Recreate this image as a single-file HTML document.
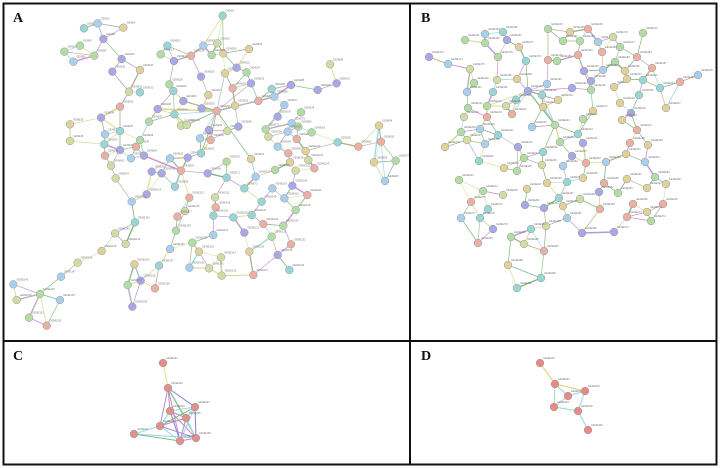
<!DOCTYPE html>
<html><head><meta charset="utf-8">
<style>
html,body{margin:0;padding:0;background:#fff;}
svg{display:block;}
</style></head>
<body>
<svg id="s" width="720" height="468" viewBox="0 0 720 468" xmlns="http://www.w3.org/2000/svg">
<rect x="0" y="0" width="720" height="468" fill="#fff"/>
<g id="edges" opacity="0.85"></g>
<g id="nodes"></g>
<rect x="3.5" y="3.5" width="713" height="461" fill="none" stroke="#111" stroke-width="2"/>
<line x1="410" y1="3" x2="410" y2="465" stroke="#111" stroke-width="2"/>
<line x1="3" y1="341" x2="717" y2="341" stroke="#111" stroke-width="2"/>
<g font-family="Liberation Serif, serif" font-weight="bold" font-size="14" fill="#111">
<text x="13" y="22">A</text>
<text x="421" y="22">B</text>
<text x="13" y="360">C</text>
<text x="421" y="360">D</text>
</g>
</svg>
<script>
var NS="http://www.w3.org/2000/svg";
var seed=7;function rnd(){seed=(seed*16807)%2147483647;return (seed-1)/2147483646;}
var A=[[653,32],[237,70],[278,55],[355,68],[295,102],[225,122],[178,140],[268,152],[205,170],[350,162],[322,200],[487,122],[467,148],[507,168],[558,152],[595,122],[637,115],[655,145],[620,150],[588,215],[660,205],[695,188],[732,132],[725,202],[738,235],[683,250],[610,270],[493,238],[505,258],[405,195],[372,260],[405,262],[345,305],[288,338],[195,358],[300,388],[345,378],[195,408],[298,418],[345,435],[300,452],[318,482],[332,520],[378,460],[393,425],[405,405],[432,350],[458,312],[508,328],[535,288],[590,310],[635,318],[690,302],[528,362],[545,360],[612,375],[667,378],[700,365],[585,400],[617,405],[548,458],[588,445],[495,460],[417,452],[440,500],[470,505],[528,497],[510,545],[608,505],[665,470],[665,518],[718,550],[738,462],[790,395],[782,373],[818,335],[838,300],[888,322],[860,355],[880,365],[848,380],[875,402],[920,382],[818,425],[858,240],[800,252],[760,288],[808,275],[975,178],[938,255],[995,235],[998,412],[1060,425],[1122,362],[1128,410],[1107,472],[1172,467],[1140,528],[850,445],[902,438],[855,472],[910,465],[872,497],[928,490],[810,495],[752,515],[802,550],[862,542],[770,590],[838,580],[907,570],[630,577],[553,578],[425,568],[380,590],[540,618],[517,635],[632,607],[685,637],[625,632],[740,630],[718,683],[625,690],[648,757],[650,812],[733,740],[745,810],[872,615],[835,662],[775,657],[800,695],[858,718],[818,750],[853,795],[513,677],[495,732],[462,782],[562,713],[582,740],[553,788],[612,790],[390,652],[330,685],[362,717],[290,738],[218,773],[168,815],[105,867],[25,838],[35,885],[72,938],[125,962],[165,885],[388,778],[407,827],[450,850],[368,840],[382,905]];
A=A.map(function(p){return [p[0]/3+5,p[1]/3+5];});
var B=[[485,34],[503,32],[465,40],[485,43],[507,40],[548,29],[570,32],[588,29],[563,41],[580,41],[598,42],[613,37],[620,47],[643,33],[429,57],[448,64],[470,69],[498,57],[519,47],[526,61],[548,60],[557,61],[578,55],[602,52],[615,62],[637,57],[603,70],[625,71],[652,68],[517,79],[497,80],[474,83],[467,92],[493,92],[528,91],[547,84],[542,95],[572,88],[584,71],[591,81],[591,90],[614,87],[627,79],[643,80],[660,88],[680,82],[698,75],[639,95],[666,108],[516,100],[506,106],[487,106],[468,108],[464,117],[487,117],[512,114],[543,107],[558,100],[593,111],[620,103],[631,113],[622,120],[637,130],[583,119],[555,125],[532,127],[480,129],[461,132],[467,140],[498,135],[445,147],[485,144],[518,147],[560,142],[578,134],[583,143],[572,156],[543,152],[524,158],[630,143],[648,145],[606,162],[626,154],[645,162],[479,161],[459,180],[504,168],[517,171],[527,189],[503,195],[542,165],[547,183],[559,198],[563,166],[586,163],[567,182],[583,178],[604,183],[599,192],[580,199],[600,209],[563,206],[544,208],[525,205],[627,179],[655,177],[618,193],[633,204],[647,188],[666,184],[663,204],[647,212],[627,217],[651,221],[614,232],[483,191],[471,202],[488,209],[461,218],[480,218],[493,229],[478,243],[511,237],[567,218],[546,226],[531,229],[582,233],[524,244],[544,251],[508,265],[541,278],[517,288]];
var C=[[163,363],[168,388],[170,411],[195,407],[186,418],[160,426],[134,434],[196,438],[180,441]];
var D=[[540,363],[555,384],[568,396],[585,391],[554,407],[578,411],[588,430]];
var NC=["#a8a8e4","#b2dba6","#98d6d4","#dfd09c","#eab0a4","#a8d0ec","#d0dca4"];
var EC=["#dcdc96","#cfcf80","#78b878","#8ad4e4","#a68ccc","#a8a8a8","#a8a870","#6aa86a","#c880c8"];
var eg=document.getElementById("edges"),ng=document.getElementById("nodes");
function line(a,b,c,w){var l=document.createElementNS(NS,"line");l.setAttribute("x1",a[0]);l.setAttribute("y1",a[1]);l.setAttribute("x2",b[0]);l.setAttribute("y2",b[1]);l.setAttribute("stroke",c);l.setAttribute("stroke-width",w||0.7);eg.appendChild(l);}
function d(a,b){return Math.hypot(a[0]-b[0],a[1]-b[1]);}
function net(P,k,maxd){
 for(var i=0;i<P.length;i++){
  var ds=[];for(var j=0;j<P.length;j++)if(j!=i)ds.push([d(P[i],P[j]),j]);
  ds.sort(function(a,b){return a[0]-b[0];});
  for(var m=0;m<k;m++){if(ds[m]&&ds[m][0]<maxd&&(m==0||rnd()<0.6))line(P[i],P[ds[m][1]],EC[Math.floor(rnd()*EC.length)],rnd()<0.15?1.4:0.7);}
 }
}
function hub(P,hp,r,p){for(var i=0;i<P.length;i++){var q=d(P[i],hp);if(q>3&&q<r&&rnd()<p)line(hp,P[i],EC[Math.floor(rnd()*EC.length)],rnd()<0.3?1.4:0.7);}}
net(A,3,40);net(B,3,40);
hub(A,[635/3+5,318/3+5],60,0.45);hub(A,[782/3+5,373/3+5],45,0.4);hub(A,[345/3+5,378/3+5],25,0.7);hub(A,[528/3+5,497/3+5],40,0.4);
hub(B,[528,91],45,0.4);hub(B,[555,125],35,0.4);hub(B,[583,143],30,0.4);
var cc=["#9b7fc8","#7fcfe0","#6bb36b","#c070c0","#6a6ad0","#90d0e8"];
for(var i=0;i<C.length;i++)for(var j=i+1;j<C.length;j++){if(i==0&&j!=1)continue;if(j==6&&i!=5)continue;line(C[i],C[j],i==0?"#dcdc80":cc[(i+j)%cc.length],1);}
var de=[[0,1,"#c8c860"],[1,2,"#7fcfe0"],[1,3,"#c8c860"],[2,3,"#7fcfe0"],[1,4,"#7fcfe0"],[2,4,"#7fcfe0"],[4,5,"#7fcfe0"],[3,5,"#7fcfe0"],[5,6,"#7fcfe0"]];
de.forEach(function(e){line(D[e[0]],D[e[1]],e[2],1);});
function node(p,c,n){var g=document.createElementNS(NS,"circle");g.setAttribute("cx",p[0]);g.setAttribute("cy",p[1]);g.setAttribute("r",3.9);g.setAttribute("fill",c);g.setAttribute("stroke","#999");g.setAttribute("stroke-width",0.5);ng.appendChild(g);
 var t=document.createElementNS(NS,"text");t.setAttribute("x",p[0]+3);t.setAttribute("y",p[1]-4);t.setAttribute("font-size","2.6");t.setAttribute("fill","#777");t.setAttribute("font-family","Liberation Sans, sans-serif");t.textContent="GENE"+n;ng.appendChild(t);}
var n=1;
A.forEach(function(p){node(p,NC[Math.floor(rnd()*NC.length)],n++);});
B.forEach(function(p){node(p,NC[Math.floor(rnd()*NC.length)],n++);});
C.forEach(function(p){node(p,"#e0928a",n++);});
D.forEach(function(p){node(p,"#e88a84",n++);});
</script>
</body></html>
